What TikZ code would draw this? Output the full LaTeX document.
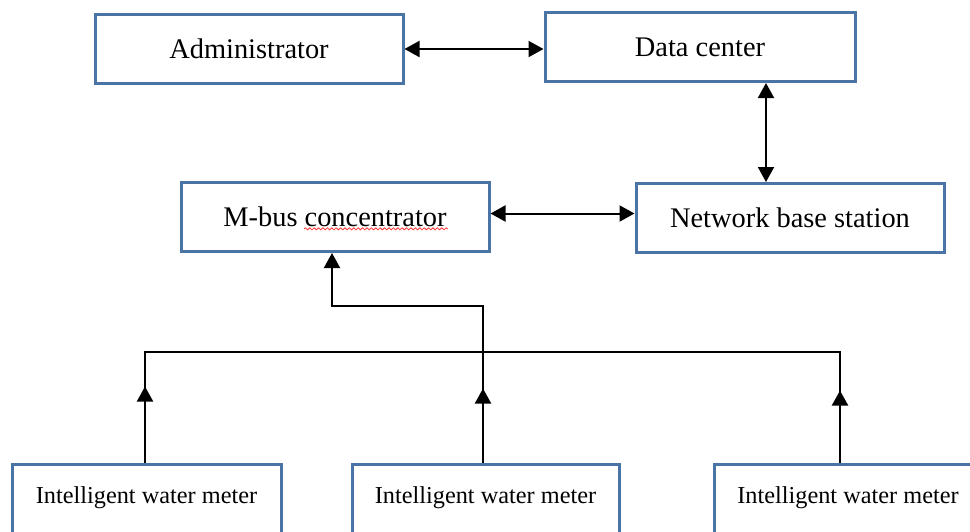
\documentclass[tikz,border=0pt]{standalone}
\usepackage{fontspec}
\setmainfont{Liberation Serif}
\usepackage{tikz}
\usetikzlibrary{arrows.meta, decorations.pathmorphing}
\definecolor{boxblue}{HTML}{4A74A6}

\begin{document}
\begin{tikzpicture}[
    x = 0.5pt, y = -0.5pt,
    >={Triangle[length=7.5pt, width=8pt]},
    %% ── node styles ──────────────────────────────────────────
    Tbox/.style  = {draw=boxblue, line width=1.5pt, align=center, inner sep=0pt,
                    minimum width=154pt, minimum height=34.5pt,
                    font=\fontsize{14.2}{17}\selectfont},
    Mbox/.style  = {draw=boxblue, line width=1.5pt, align=center, inner sep=0pt,
                    minimum width=134pt, minimum height=40pt,
                    text height=8.5pt, text depth=8.7pt,
                    font=\fontsize{12.15}{14.5}\selectfont},
    arr/.style   = {<->, line width=1pt},
    uparr/.style = {->, line width=1pt},
    wire/.style  = {line width=1pt},
    spell/.style = {red!80, line width=0.4pt, decorate,
                    decoration={snake, amplitude=0.5pt, segment length=2.2pt}}
]
\useasboundingbox (0,0) rectangle (970,531);

%% ── Upper level ──────────────────────────────────────────────
\node[Tbox] (admin) at (249, 49) {Administrator};
\node[Tbox, minimum width=155pt] (datac) at (700, 47) {Data center};
\node[Tbox] (mbus) at (335, 217) {M-bus concentrator};
\node[Tbox] (nbs)  at (790, 218) {Network base station};

%% ── Meters (cut by the lower edge) ───────────────────────────
\node[Mbox, minimum width=134.5pt] (meter1) at (146.5, 504) {Intelligent water meter};
\node[Mbox, minimum width=133.5pt] (meter2) at (485.5, 504) {Intelligent water meter};
\node[Mbox] (meter3) at (848, 504) {Intelligent water meter};

%% ── Helper points ────────────────────────────────────────────
\coordinate (tap1) at ([xshift=-0.75pt]meter1.north);
\coordinate (tap2) at ([xshift=-1.25pt]meter2.north);
\coordinate (tap3) at ([xshift=-4pt]meter3.north);
\coordinate (busy) at (0, 352);
\coordinate (knee) at (332, 306);

%% ── Two-way links ────────────────────────────────────────────
\draw[arr] (admin.east) -- (admin.east -| datac.west);
\draw[arr] ([xshift=33pt]datac.south) -- ([xshift=33pt]datac.south |- nbs.north);
\draw[arr] ([yshift=1.75pt]mbus.east) -- ([yshift=1.75pt]mbus.east -| nbs.west);

%% ── Meter bus ────────────────────────────────────────────────
\draw[uparr] (tap1) -- ++(0,-76);
\draw[uparr] (tap2) -- ++(0,-74);
\draw[uparr] (tap3) -- ++(0,-72);
\draw[wire] (tap1) -- (tap1 |- busy) -- (tap3 |- busy) -- (tap3);
\draw[uparr] (tap2) -- (tap2 |- knee) -- (knee) -- (knee |- mbus.south);

%% ── Spell-check mark ─────────────────────────────────────────
\draw[spell] ([xshift=-15.5pt, yshift=-5.9pt]mbus.center)
          -- ([xshift=56.5pt, yshift=-5.9pt]mbus.center);

\end{tikzpicture}
\end{document}
